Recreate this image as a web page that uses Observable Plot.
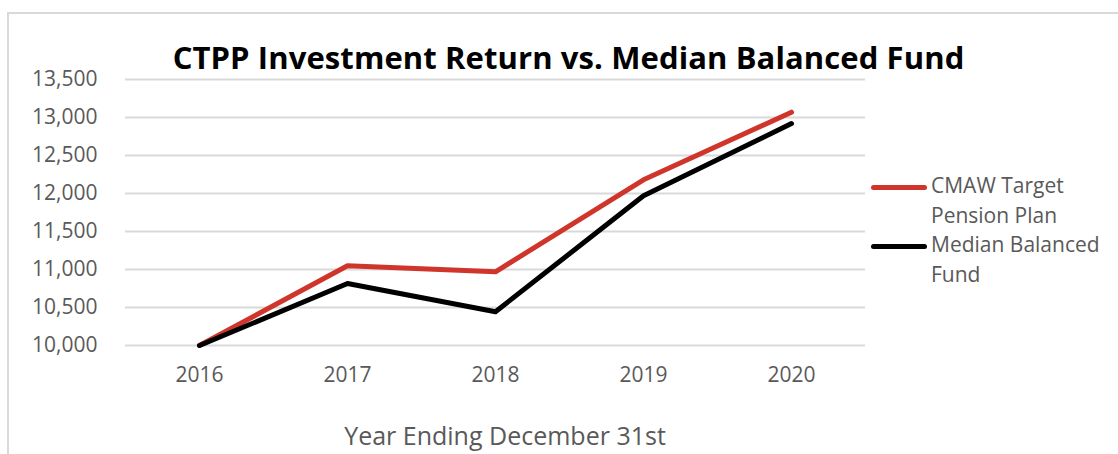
<!DOCTYPE html>
<html>
<head>
<meta charset="utf-8">
<script src="https://cdn.jsdelivr.net/npm/d3@7"></script>
<script src="https://cdn.jsdelivr.net/npm/@observablehq/plot@0.6"></script>
<style>
  html, body { margin: 0; padding: 0; background: #fff; }
  body { width: 1118px; height: 454px; overflow: hidden; font-family: "Open Sans", sans-serif; }
  #wrap { position: relative; width: 1118px; height: 454px; }
  #frame { position: absolute; left: 7px; top: 12px; width: 1200px; height: 500px; border-left: 2px solid #d9d9d9; border-top: 2px solid #d9d9d9; }
  #chart { position: absolute; left: 0; top: 0; }
  #title { position: absolute; left: 0; width: 1137px; top: 37px; text-align: center; font-weight: 700; font-size: 31px; letter-spacing: 0.1px; color: #000; line-height: 40px; white-space: nowrap; }
  #xtitle { position: absolute; left: 0; width: 1010px; top: 418px; text-align: center; font-size: 25px; color: #595959; line-height: 34px; white-space: nowrap; }
  #legend { position: absolute; left: 871px; top: 171px; }
  .item { display: flex; align-items: flex-start; margin-bottom: 0px; }
  .swatch { width: 56px; height: 5px; border-radius: 3px; margin-top: 14px; margin-right: 4px; flex: none; }
  .label { width: 190px; font-size: 21px; line-height: 29.5px; color: #595959; }
</style>
</head>
<body>
<div id="wrap">
  <div id="frame"></div>
  <div id="chart"></div>
  <div id="title"></div>
  <div id="xtitle"></div>
  <div id="legend"></div>
</div>
<script>
const titleText = "CTPP Investment Return vs. Median Balanced Fund";
const xAxisTitle = "Year Ending December 31st";
const years = ["2016", "2017", "2018", "2019", "2020"];
const seriesNames = ["CMAW Target Pension Plan", "Median Balanced Fund"];
const seriesColors = ["#d0352c", "#000000"];
const ctppValues = [10000, 11050, 10970, 12180, 13070];
const medianValues = [10000, 10815, 10445, 11970, 12920];
const yTicks = [10000, 10500, 11000, 11500, 12000, 12500, 13000, 13500];

const data = [];
years.forEach((yr, i) => {
  data.push({year: yr, value: ctppValues[i], series: seriesNames[0]});
});
years.forEach((yr, i) => {
  data.push({year: yr, value: medianValues[i], series: seriesNames[1]});
});

const plot = Plot.plot({
  width: 1118,
  height: 454,
  marginLeft: 125,
  marginRight: 253,
  marginTop: 79,
  marginBottom: 109,
  style: { fontFamily: "'Open Sans', sans-serif", fontSize: "21px", color: "#595959", background: "transparent", overflow: "visible" },
  x: { type: "point", domain: years, padding: 0.5 },
  y: { domain: [10000, 13500] },
  color: { domain: seriesNames, range: seriesColors },
  marks: [
    Plot.gridY(yTicks, { stroke: "#d9d9d9", strokeOpacity: 1, strokeWidth: 2 }),
    Plot.axisY(yTicks, { tickSize: 0, tickPadding: 28, tickFormat: d3.format(","), label: null, fill: "#595959" }),
    Plot.axisX({ tickSize: 0, tickPadding: 22, label: null, fill: "#595959" }),
    Plot.line(data, { x: "year", y: "value", z: "series", stroke: "series", strokeWidth: 5, strokeLinecap: "round", strokeLinejoin: "round" })
  ]
});
document.getElementById("chart").appendChild(plot);
document.getElementById("title").textContent = titleText;
document.getElementById("xtitle").textContent = xAxisTitle;

const legend = document.getElementById("legend");
seriesNames.forEach((name, i) => {
  const item = document.createElement("div");
  item.className = "item";
  const sw = document.createElement("div");
  sw.className = "swatch";
  sw.style.background = seriesColors[i];
  const lb = document.createElement("div");
  lb.className = "label";
  lb.textContent = name;
  item.appendChild(sw);
  item.appendChild(lb);
  legend.appendChild(item);
});
</script>
</body>
</html>
